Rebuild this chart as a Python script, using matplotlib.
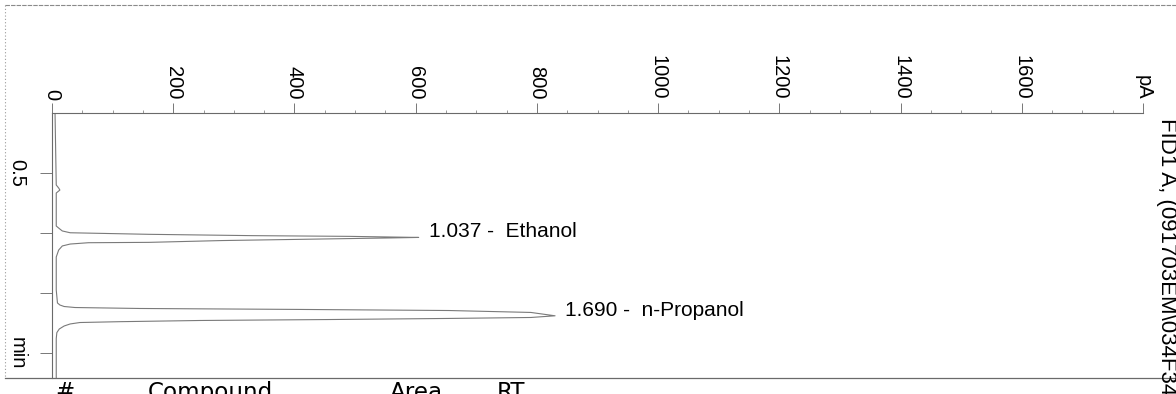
## FID chromatogram (scanned ChemStation printout, rotated)

## -----------------------
## Load libraries
import numpy as np
import matplotlib
matplotlib.use("Agg")
import matplotlib.pyplot as plt
from matplotlib.lines import Line2D
from matplotlib.ticker import MultipleLocator, FixedLocator

## -----------------------
## Trace: time (min) vs signal (pA)
## baseline + small blip before ethanol
pre_t = [0.0, 0.60, 0.625, 0.642, 0.667, 0.725, 0.942]
pre_pa = [5, 7, 11, 13, 7, 7, 7]

## ethanol peak
eth_t = [0.967, 0.983, 0.998, 1.003, 1.011, 1.022, 1.028, 1.037, 1.041,
         1.052, 1.063, 1.078, 1.081, 1.092, 1.108, 1.142, 1.2, 1.475]
eth_pa = [13, 17, 30, 80, 160, 330, 490, 605, 560,
          420, 280, 160, 60, 30, 17, 11, 7, 7]

## n-propanol peak
prop_t = [1.583, 1.60, 1.6125, 1.621, 1.629, 1.637, 1.646, 1.662, 1.69,
          1.704, 1.712, 1.721, 1.729, 1.739, 1.746, 1.758, 1.775, 1.80,
          1.83, 1.88, 2.21]
prop_pa = [9, 13, 20, 38, 145, 410, 655, 790, 830,
           790, 655, 460, 245, 112, 46, 30, 20, 12,
           8, 7, 7]

## peak annotations
peak_rt = [1.037, 1.690]
peak_height = [605, 830]
peak_names = ["Ethanol", "n-Propanol"]

## axis ticks
x_major = [0, 200, 400, 600, 800, 1000, 1200, 1400, 1600, 1800]
x_labels = ["0", "200", "400", "600", "800", "1000", "1200", "1400", "1600", "pA"]
y_major = [0.5, 1.0, 1.5, 2.0]
y_labels = ["0.5", "", "", "min"]

## table header under the chart
table_cols = ["#", "Compound", "Area", "RT"]

## -----------------------
## Build trace
t = np.array(pre_t + eth_t + prop_t)
pa = np.array(pre_pa + eth_pa + prop_pa)

plt.rcParams["font.family"] = ["Liberation Sans", "DejaVu Sans"]

W, H = 1176, 394
fig = plt.figure(figsize=(W / 100, H / 100), dpi=100)
ax = fig.add_axes([52 / W, 1 - 378 / H, (1143 - 52) / W, (378 - 113) / H])

ax.plot(pa, t, color="#7a7a7a", lw=0.8)

ax.set_xlim(0, 1800)
ax.set_ylim((378 - 113) / 120, 0)   # 120 px per minute, top = 0 min

## spines
for s in ["right", "bottom"]:
    ax.spines[s].set_visible(False)
for s in ["top", "left"]:
    ax.spines[s].set_color("#6a6a6a")
    ax.spines[s].set_linewidth(0.8)

## x axis on top, rotated labels
ax.xaxis.tick_top()
ax.xaxis.set_major_locator(FixedLocator(x_major))
ax.set_xticklabels(x_labels, rotation=-90, fontsize=14.5)
ax.xaxis.set_minor_locator(MultipleLocator(50))
ax.tick_params(axis="x", which="major", length=7.5, width=0.7, color="#777777", pad=2)
ax.tick_params(axis="x", which="minor", length=2.5, width=0.6, color="#888888", top=True)

## y axis (time)
ax.yaxis.set_major_locator(FixedLocator(y_major))
ax.set_yticklabels(y_labels, rotation=-90, fontsize=14.5, va="center")
ax.tick_params(axis="y", which="major", length=8.5, width=0.7, color="#777777", pad=10)

## peak labels
for rt, h, name in zip(peak_rt, peak_height, peak_names):
    ax.text(h + 17, rt, f"{rt:.3f} -  {name}", fontsize=15, va="baseline", ha="left")

## signal name on the right (runs off the page like the scan)
fig.text(1166 / W, 1 - 118 / H, "FID1 A, (091703EM\\034F3401.D)", rotation=-90,
         fontsize=16, ha="center", va="top")

## page frame: dotted outer box, bottom table border
fig.add_artist(Line2D([5 / W, 5 / W], [1 - 5 / H, 1 - 378 / H], transform=fig.transFigure,
                      color="#9a9a9a", lw=0.8, ls=(0, (1, 2))))
fig.add_artist(Line2D([5 / W, 1.0], [1 - 5 / H, 1 - 5 / H], transform=fig.transFigure,
                      color="#8a8a8a", lw=0.8, ls=(0, (4, 1))))
fig.add_artist(Line2D([5 / W, 1.0], [1 - 378 / H, 1 - 378 / H], transform=fig.transFigure,
                      color="#6a6a6a", lw=0.9))

## table header (cut off by the page edge)
for x, col in zip([55, 148, 390, 497], table_cols):
    fig.text(x / W, 1 - 399 / H, col, fontsize=16.6, family="DejaVu Sans",
             ha="left", va="baseline")

fig.savefig("out.png", dpi=100)
